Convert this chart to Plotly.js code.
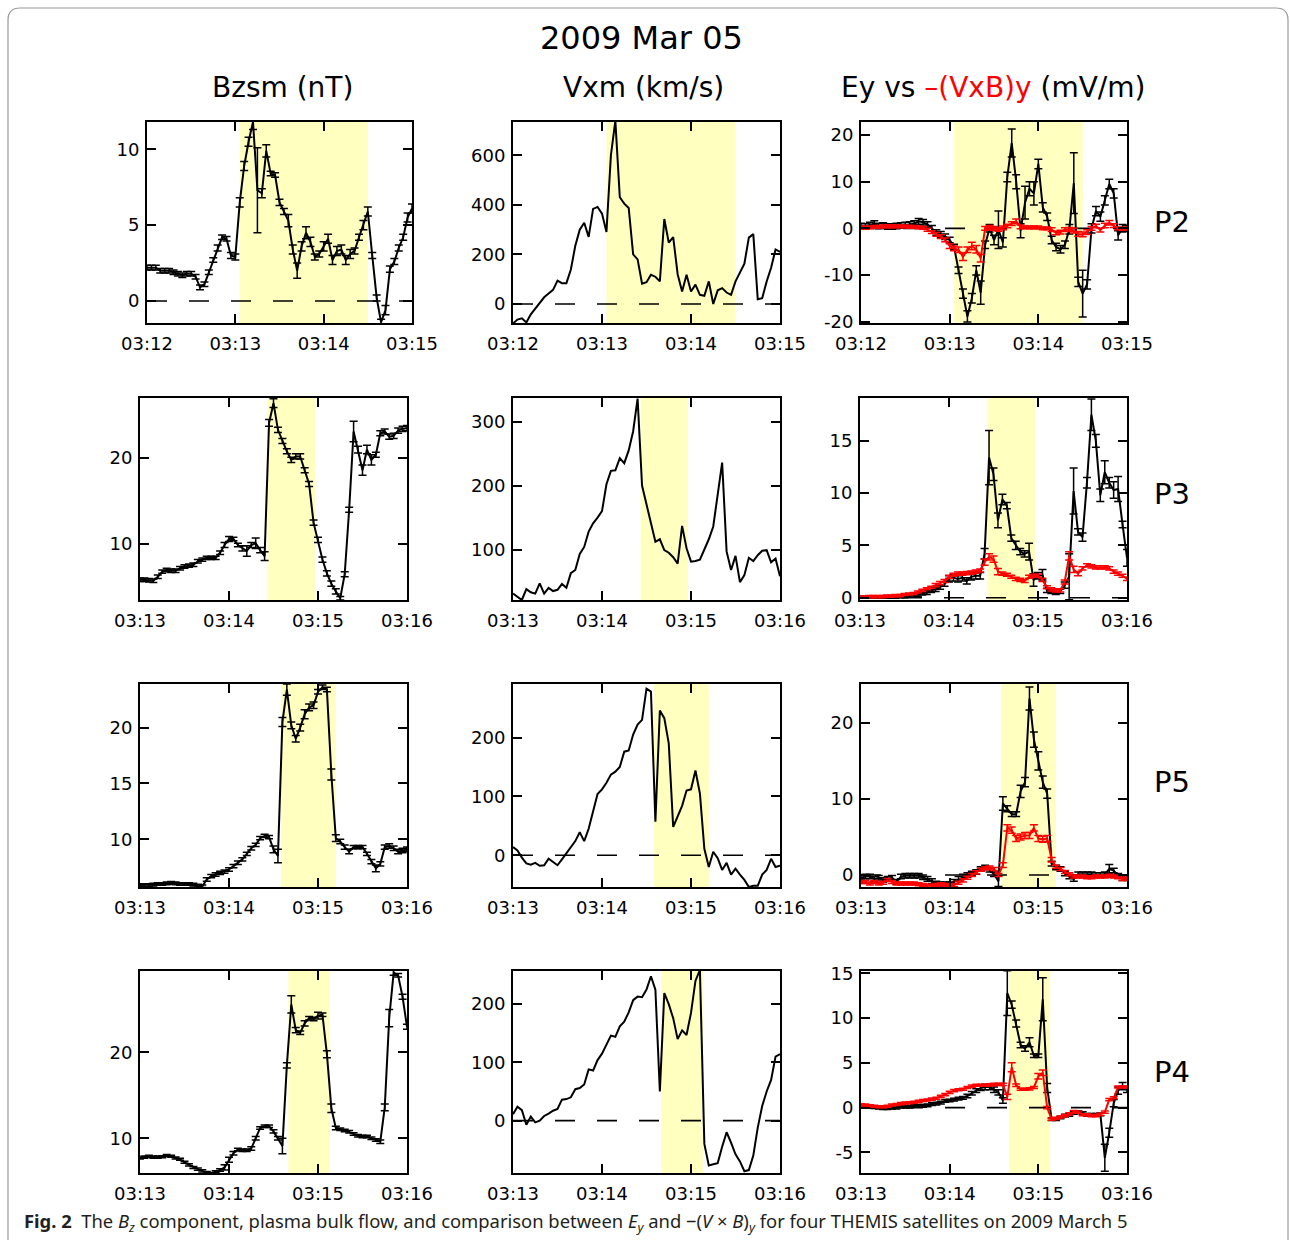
<!DOCTYPE html>
<html><head><meta charset="utf-8">
<script src="https://cdn.plot.ly/plotly-3.0.1.min.js"></script>
<style>html,body{margin:0;padding:0;background:#fff}</style>
</head><body>
<div id="chart" style="width:1290px;height:1240px"></div>
<script>
// ---- sample times: seconds after panel start (3 s spin cadence) ----
const T = [0,3,6,9,12,15,18,21,24,27,30,33,36,39,42,45,48,51,54,57,60,63,66,69,72,75,78,81,84,87,90,93,96,99,102,105,108,111,114,117,120,123,126,129,132,135,138,141,144,147,150,153,156,159,162,165,168,171,174,177,180];
const xTickVals = [0,60,120,180];
const xTickP2 = ['03:12','03:13','03:14','03:15'];
const xTickLate = ['03:13','03:14','03:15','03:16'];

// ---- P2 ----
const bz_P2 = [2.2,2.2,2.2,2.0,2.0,2.0,1.9,1.8,1.7,1.8, 1.8,1.6,0.9,1.1,1.9,2.7,3.5,4.2,4.1,3.0, 2.9,6.5,8.9,10.5,11.8,7.3,7.1,9.9,8.4,8.3, 6.5,5.9,5.3,3.4,2.0,3.6,4.5,3.9,2.9,3.1, 3.6,4.1,2.7,3.3,3.4,2.7,3.1,3.3,4.2,5.0, 5.9,3.0,0.2,-1.4,-0.6,2.1,2.6,3.5,4.2,5.5, 6.1];
const bz_P2_err = [0.15,0.15,0.15,0.15,0.15,0.15,0.15,0.15,0.15,0.15, 0.15,0.15,0.15,0.15,0.15,0.15,0.2,0.15,0.15,0.2, 0.2,0.3,0.3,0.3,0.5,2.8,0.3,0.4,0.15,0.15, 0.2,0.2,0.4,0.3,0.5,0.3,0.4,0.3,0.2,0.2, 0.3,0.3,0.3,0.3,0.3,0.3,0.3,0.2,0.2,0.3, 0.3,0.2,0.2,0.2,0.3,0.2,0.2,0.2,0.2,0.3, 0.3];
const vx_P2 = [-79,-63,-58,-75,-42,-20,3,27,42,57, 94,84,84,139,235,300,328,271,384,392, 365,291,600,740,431,405,388,200,180,82, 88,118,110,91,343,248,270,120,50,118, 50,78,37,33,91,0,55,64,46,37, 91,125,163,268,282,19,23,91,146,220, 210];
const ey_P2 = [0.5,0.4,0.7,1.0,0.5,0.6,0.4,0.4,0.5,0.6, 0.7,0.8,1.0,1.5,1.3,0.8,0.0,-0.9,-1.3,-1.8, -2.5,-4.0,-9.0,-14.0,-18.9,-15.0,-9.0,-13.8,-3.5,0.0, -2.5,-0.3,-3.0,11.0,18.3,10.0,-0.5,5.5,8.5,7.5, 13.8,4.5,2.5,-2.5,-4.0,-4.5,-3.5,-0.2,9.7,-11.5, -14.0,-12.0,0.0,3.7,2.5,6.0,9.5,7.5,-1.5,0.0, 0.0];
const ey_P2_err = [0.6,0.6,0.6,0.6,0.6,0.6,0.6,0.6,0.6,0.6, 0.6,0.6,0.6,0.6,0.6,0.6,0.6,0.6,0.6,0.6, 0.6,0.6,0.7,1.0,1.2,1.0,1.0,2.5,0.8,0.8, 1.0,4.0,1.0,1.0,3.0,1.5,1.5,3.5,1.5,2.5, 1.0,1.0,0.8,0.8,0.8,0.8,0.8,1.0,6.5,1.0, 5.0,1.0,1.0,1.0,1.0,1.0,1.0,1.0,1.0,0.8, 0.6];
const vxb_P2 = [0.2,0.1,0.2,0.3,0.3,0.4,0.4,0.4,0.4,0.4, 0.4,0.3,0.3,0.2,0.1,-0.3,-0.8,-1.3,-1.8,-2.5, -3.8,-4.3,-4.6,-6.1,-4.6,-3.8,-4.5,-6.4,0.0,0.2, 0.0,-0.2,0.1,0.5,1.0,1.5,0.3,0.2,0.2,0.2, 0.2,0.0,0.0,-0.3,-1.0,-0.8,-0.3,-0.2,-0.5,-1.2, -1.3,-0.8,0.0,0.5,-0.4,0.6,1.2,0.6,0.0,-0.1, 0.0];
const vxb_P2_err = [0.3,0.3,0.3,0.3,0.3,0.3,0.3,0.3,0.3,0.3, 0.3,0.3,0.3,0.3,0.3,0.3,0.3,0.4,0.4,0.4, 0.5,0.5,0.6,0.8,0.6,0.8,0.8,0.8,0.4,0.4, 0.4,0.4,0.4,0.4,0.4,0.5,0.4,0.3,0.3,0.3, 0.3,0.3,0.3,0.4,0.4,0.4,0.4,0.4,0.5,0.5, 0.5,0.5,0.4,0.4,0.4,0.5,0.5,0.4,0.3,0.3, 0.3];
const shade_P2 = [63,150];

// ---- P3 ----
const bz_P3 = [5.85,5.85,5.8,5.75,6.2,6.8,7.0,6.9,6.9,7.2, 7.4,7.5,7.6,8.0,8.2,8.4,8.4,8.4,9.0,9.9, 10.6,10.6,9.9,9.5,9.2,9.9,10.1,9.3,8.6,24.1, 26.4,23.3,22.0,20.8,19.8,20.2,20.2,18.6,17.0,12.5, 10.5,8.2,6.6,5.4,4.5,3.7,6.5,14.0,23.1,21.0, 18.6,21.0,19.8,20.4,22.9,23.1,22.5,22.6,23.2,23.4, 23.5];
const bz_P3_err = [0.2,0.2,0.2,0.2,0.2,0.2,0.2,0.2,0.2,0.2, 0.2,0.2,0.2,0.2,0.2,0.2,0.2,0.2,0.2,0.3, 0.3,0.2,0.2,0.3,0.6,0.3,0.6,0.3,0.5,0.4, 0.5,0.3,0.3,0.3,0.3,0.3,0.3,0.3,0.3,0.3, 0.3,0.3,0.3,0.3,0.3,0.2,0.3,0.3,1.2,0.4, 0.6,0.5,0.6,0.3,0.3,0.3,0.3,0.3,0.3,0.3, 0.3];
const vx_P3 = [31,26,21,38,33,31,47,31,40,35, 37,46,40,63,68,93,104,128,141,150, 160,202,223,224,243,235,255,285,336,200, 170,142,112,116,99,95,88,78,137,102, 81,82,84,100,116,136,185,236,97,68, 90,49,60,87,82,91,98,99,80,86, 58];
const ey_P3 = [0.05,0.05,0.05,0.05,0.05,0.05,0.05,0.05,0.05,0.1, 0.1,0.15,0.2,0.3,0.4,0.5,0.7,0.8,1.0,1.3, 1.8,1.9,1.8,1.9,1.6,2.0,2.1,2.1,4.2,13.4, 11.8,7.4,9.4,8.8,5.7,5.0,4.4,4.2,4.4,1.7, 2.1,2.2,0.7,0.6,0.5,0.6,1.2,2.0,10.2,6.3, 5.8,11.0,17.5,15.0,9.8,12.0,11.0,10.3,10.4,7.0, 3.8];
const ey_P3_err = [0.1,0.1,0.1,0.1,0.1,0.1,0.1,0.1,0.1,0.1, 0.1,0.1,0.15,0.15,0.15,0.2,0.2,0.2,0.2,0.2, 0.3,0.3,0.3,0.3,0.3,0.3,0.3,0.3,0.5,2.6, 0.6,0.7,0.5,0.3,0.3,0.4,0.3,0.3,0.8,0.6, 0.3,0.5,0.2,0.2,0.2,0.2,0.3,2.2,2.2,0.3, 0.4,0.5,1.5,0.6,0.6,1.1,0.5,0.8,1.2,0.3, 0.8];
const vxb_P3 = [0.05,0.05,0.1,0.1,0.1,0.1,0.15,0.15,0.2,0.2, 0.3,0.35,0.4,0.55,0.7,0.85,1.0,1.2,1.4,1.6, 2.0,2.2,2.3,2.3,2.35,2.4,2.5,2.6,3.4,3.9, 3.7,2.5,2.3,2.2,2.0,1.8,1.7,1.6,2.0,2.1, 2.1,1.7,1.0,0.8,0.7,0.7,1.5,4.0,2.7,2.3, 2.8,3.1,3.0,2.9,2.9,2.9,2.8,2.5,2.3,2.1, 1.8];
const vxb_P3_err = [0.1,0.1,0.1,0.1,0.1,0.1,0.1,0.1,0.1,0.1, 0.1,0.1,0.1,0.1,0.1,0.1,0.1,0.15,0.15,0.15, 0.15,0.15,0.15,0.15,0.15,0.15,0.15,0.15,0.3,0.3, 0.3,0.3,0.15,0.15,0.15,0.15,0.15,0.15,0.15,0.15, 0.15,0.15,0.15,0.15,0.15,0.15,0.2,0.4,0.3,0.2, 0.15,0.15,0.15,0.15,0.15,0.15,0.15,0.15,0.15,0.15, 0.15];
const shade_P3 = [86,118];

// ---- P5 ----
const bz_P5 = [5.9,5.9,5.9,5.95,6.0,6.0,6.05,6.1,6.05,6.0, 6.0,6.0,5.95,5.85,5.8,6.4,6.7,6.85,7.0,7.1, 7.3,7.6,7.9,8.2,8.7,9.2,9.5,10.1,10.3,10.2, 9.1,8.5,20.5,23.4,20.2,19.0,20.0,21.2,21.8,22.0, 23.2,23.6,23.4,15.8,10.1,9.8,9.3,8.9,9.3,9.3, 9.3,8.7,8.0,7.4,7.8,9.3,9.4,9.2,8.9,9.0, 9.1];
const bz_P5_err = [0.12,0.12,0.12,0.12,0.12,0.12,0.12,0.12,0.12,0.12, 0.12,0.12,0.12,0.12,0.12,0.15,0.15,0.15,0.15,0.15, 0.15,0.15,0.15,0.15,0.15,0.15,0.15,0.15,0.15,0.15, 0.3,0.6,0.4,0.5,0.3,0.3,0.3,0.4,0.3,0.3, 0.2,0.2,0.2,0.5,0.3,0.2,0.2,0.2,0.15,0.15, 0.15,0.15,0.2,0.3,0.2,0.2,0.2,0.2,0.2,0.2, 0.2];
const vx_P5 = [14,8,-4,-14,-16,-13,-18,-17,-6,-12, -17,-7,3,12,24,39,24,45,75,104, 112,123,137,142,150,176,178,205,222,230, 283,278,57,246,233,190,48,65,84,110, 112,144,105,11,-20,6,-5,-25,-13,-33, -23,-33,-42,-54,-52,-52,-33,-25,-6,-20, -18];
const ey_P5 = [-0.35,-0.2,-0.2,-0.5,-0.35,-0.65,-0.5,-0.35,-0.9,-0.2, -0.1,-0.1,-0.1,-0.1,-0.3,-0.5,-0.8,-1.1,-1.2,-1.2, -1.2,-0.9,-0.5,-0.2,0.0,0.2,0.4,0.8,1.0,0.7, 0.1,-0.8,9.4,8.7,8.0,8.0,11.0,12.2,23.2,17.8, 15.0,12.2,10.7,1.5,1.0,0.8,0.2,-0.2,-0.5,0.1, 0.1,0.1,0.1,0.0,0.0,0.1,0.8,0.6,-0.1,-0.4, -0.35];
const ey_P5_err = [0.3,0.3,0.3,0.3,0.3,0.3,0.3,0.3,0.3,0.3, 0.3,0.3,0.3,0.3,0.3,0.3,0.3,0.3,0.3,0.3, 0.3,0.3,0.3,0.3,0.3,0.3,0.3,0.3,0.3,0.3, 0.3,0.7,0.9,0.4,0.3,0.3,0.8,0.6,1.5,1.0, 1.2,0.8,0.6,0.3,0.3,0.3,0.3,0.3,0.3,0.3, 0.3,0.3,0.3,0.3,0.3,0.3,0.6,0.3,0.3,0.3, 0.3];
const vxb_P5 = [-0.9,-0.9,-1.1,-0.9,-1.1,-1.0,-0.65,-0.9,-1.1,-1.1, -1.1,-1.1,-1.1,-1.2,-1.3,-1.4,-1.4,-1.3,-1.2,-1.3, -1.4,-1.3,-1.0,-0.7,-0.35,0.0,0.35,0.7,0.9,1.0, 0.8,0.0,1.3,6.2,5.9,4.8,5.0,5.2,5.2,6.2, 4.8,4.7,4.8,2.0,1.1,0.8,0.4,0.1,-0.2,-0.2, -0.2,-0.3,-0.3,-0.2,-0.2,-0.2,-0.1,-0.2,-0.3,-0.5, -0.5];
const vxb_P5_err = [0.2,0.2,0.2,0.2,0.2,0.2,0.2,0.2,0.2,0.2, 0.2,0.2,0.2,0.2,0.2,0.2,0.2,0.2,0.2,0.2, 0.2,0.2,0.2,0.2,0.2,0.2,0.2,0.2,0.2,0.2, 0.2,0.2,0.3,0.4,0.4,0.4,0.4,0.4,0.4,0.4, 0.4,0.4,0.4,0.3,0.2,0.2,0.2,0.2,0.2,0.2, 0.2,0.2,0.2,0.2,0.2,0.2,0.2,0.2,0.2,0.2, 0.2];
const shade_P5 = [95,132];

// ---- P4 ----
const bz_P4 = [7.7,7.8,7.9,7.8,7.8,7.85,8.0,7.9,7.7,7.55, 7.2,6.9,6.6,6.4,6.2,6.0,5.9,6.1,6.3,6.6, 7.5,8.25,8.7,8.6,8.6,8.8,10.0,11.2,11.4,11.4, 10.8,10.0,9.1,18.5,25.6,22.6,22.3,23.4,24.0,23.9, 24.3,24.4,19.8,13.5,11.2,11.05,10.9,10.75,10.5,10.3, 10.2,10.2,10.0,9.8,9.6,13.6,24.0,29.3,29.0,26.5, 23.0];
const bz_P4_err = [0.12,0.12,0.12,0.12,0.12,0.12,0.12,0.12,0.12,0.12, 0.12,0.12,0.12,0.12,0.12,0.12,0.12,0.12,0.15,0.3, 0.3,0.2,0.15,0.15,0.15,0.2,0.2,0.15,0.15,0.15, 0.2,0.2,0.9,0.3,1.0,0.3,0.2,0.3,0.2,0.2, 0.4,0.2,0.4,0.5,0.2,0.15,0.15,0.15,0.15,0.15, 0.15,0.15,0.15,0.15,0.2,0.4,1.0,0.3,0.2,0.3, 0.3];
const vx_P4 = [11,24,18,-7,7,-3,0,8,12,17, 20,36,37,40,54,56,62,88,86,104, 115,130,146,144,162,170,186,207,213,212, 225,248,225,50,219,200,176,140,155,147, 185,240,259,-40,-77,-75,-73,-45,-20,-38, -58,-70,-87,-85,-60,-12,25,50,70,110, 114];
const ey_P4 = [0.2,0.1,0.1,0.05,0.0,-0.05,-0.05,0.0,0.0,0.1, 0.1,0.1,0.2,0.2,0.2,0.25,0.4,0.45,0.55,0.75, 0.8,0.9,1.0,1.1,1.3,1.6,1.9,2.2,2.3,2.3, 2.0,1.7,0.8,12.8,11.5,9.4,7.0,6.6,7.3,5.8, 5.8,12.1,2.2,-1.3,-1.3,-1.1,-0.9,-0.8,-0.6,-0.5, -0.6,-0.8,-0.8,-0.8,-0.75,-5.6,-2.8,0.5,1.9,2.4, 2.0];
const ey_P4_err = [0.15,0.15,0.15,0.15,0.15,0.15,0.15,0.15,0.15,0.15, 0.15,0.15,0.15,0.15,0.15,0.15,0.15,0.15,0.15,0.15, 0.15,0.15,0.15,0.15,0.2,0.2,0.2,0.3,0.3,0.3, 0.3,0.3,0.3,2.5,0.4,0.4,0.3,0.3,0.5,0.2, 0.2,2.4,0.5,0.15,0.15,0.15,0.15,0.15,0.15,0.15, 0.15,0.15,0.15,0.15,0.15,1.5,0.5,0.4,0.4,0.4, 0.3];
const vxb_P4 = [0.3,0.3,0.2,0.15,0.1,0.1,0.15,0.3,0.35,0.45, 0.5,0.55,0.6,0.7,0.8,0.85,0.95,1.05,1.25,1.45, 1.7,1.9,2.0,2.05,2.25,2.4,2.5,2.5,2.5,2.55, 2.6,2.6,2.6,1.2,4.5,2.5,2.05,2.05,2.1,2.25, 3.5,3.9,0.0,-1.3,-1.2,-1.05,-0.9,-0.7,-0.45,-0.5, -0.8,-0.8,-0.9,-0.9,-0.75,-0.5,0.9,1.1,2.3,2.3, 2.3];
const vxb_P4_err = [0.12,0.12,0.12,0.12,0.12,0.12,0.12,0.12,0.12,0.12, 0.12,0.12,0.12,0.12,0.12,0.12,0.12,0.12,0.12,0.12, 0.12,0.12,0.12,0.12,0.12,0.12,0.12,0.12,0.12,0.12, 0.12,0.12,0.12,0.3,0.5,0.15,0.12,0.12,0.12,0.12, 0.3,0.3,0.12,0.12,0.12,0.12,0.12,0.12,0.12,0.12, 0.12,0.12,0.12,0.12,0.12,0.12,0.12,0.12,0.12,0.12, 0.12];
const shade_P4 = [100,128];

// ---- labels / ticks ----
const probes = ['P2','P3','P5','P4'];
const colTitles = ['Bzsm (nT)','Vxm (km/s)','Ey vs <span style="color:#ff0000">–(VxB)y</span> (mV/m)'];
const yTicks = [
  [[0,5,10],[0,200,400,600],[-20,-10,0,10,20]],
  [[10,20],[100,200,300],[0,5,10,15]],
  [[10,15,20],[0,100,200],[0,10,20]],
  [[10,20],[0,100,200],[-5,0,5,10,15]]
];
const yRanges = [
  [[-1.45,11.8],[-77,735],[-20.3,22.8]],
  [[3.5,27.0],[21,337],[-0.22,19.1]],
  [[5.73,23.9],[-54,291],[-1.57,25.1]],
  [[5.95,29.5],[-90,257],[-7.3,15.26]]
];
const zeroLine = [[true,true,true],[false,false,true],[false,true,true],[false,true,true]];

// ---- geometry (pixels) ----
const W = 1290, H = 1240;
const colX = [[[147,412],[513,780],[861,1127]],
              [[140,407],[513,780],[860,1127]],
              [[140,407],[513,780],[861,1127]],
              [[140,407],[513,780],[861,1127]]];
const rowY = [[122,323],[398,600],[684,887],[971,1173]];

const rowsData = [
  {bz:bz_P2,bzE:bz_P2_err,vx:vx_P2,ey:ey_P2,eyE:ey_P2_err,vb:vxb_P2,vbE:vxb_P2_err,sh:shade_P2,xt:xTickP2},
  {bz:bz_P3,bzE:bz_P3_err,vx:vx_P3,ey:ey_P3,eyE:ey_P3_err,vb:vxb_P3,vbE:vxb_P3_err,sh:shade_P3,xt:xTickLate},
  {bz:bz_P5,bzE:bz_P5_err,vx:vx_P5,ey:ey_P5,eyE:ey_P5_err,vb:vxb_P5,vbE:vxb_P5_err,sh:shade_P5,xt:xTickLate},
  {bz:bz_P4,bzE:bz_P4_err,vx:vx_P4,ey:ey_P4,eyE:ey_P4_err,vb:vxb_P4,vbE:vxb_P4_err,sh:shade_P4,xt:xTickLate}
];

const FONT = 'DejaVu Sans';
const traces = [], shapes = [], annotations = [];
const layout = {
  width: W, height: H, margin:{l:0,r:0,t:0,b:0},
  paper_bgcolor:'#ffffff', plot_bgcolor:'rgba(0,0,0,0)',
  showlegend:false, font:{family:FONT, color:'#000', size:18}
};

function errOpts(arr, color){
  return {type:'data', array:arr, symmetric:true, visible:true, color:color, thickness:1.5, width:4};
}

for (let r=0; r<4; r++){
  const d = rowsData[r];
  for (let c=0; c<3; c++){
    const k = r*3+c+1;
    const sx = k===1 ? '' : String(k);
    const xa = 'x'+sx, ya = 'y'+sx;
    const [L,R] = colX[r][c];
    const [Tp,B] = rowY[r];
    layout['xaxis'+sx] = {
      domain:[L/W, R/W], anchor:ya, range:[0,180],
      tickvals:xTickVals, ticktext:d.xt,
      ticks:'inside', ticklen:9, tickwidth:2, tickcolor:'#000',
      showline:true, linewidth:2, linecolor:'#000', mirror:'allticks',
      showgrid:false, zeroline:false, tickfont:{size:18, family:FONT}, ticklabelstandoff:3
    };
    const tv = yTicks[r][c];
    layout['yaxis'+sx] = {
      domain:[1-B/H, 1-Tp/H], anchor:xa, range:yRanges[r][c],
      tickvals:tv, ticktext:tv.map(v=>String(v)),
      ticks:'inside', ticklen:9, tickwidth:2, tickcolor:'#000',
      showline:true, linewidth:2, linecolor:'#000', mirror:'allticks',
      showgrid:false, zeroline:false, tickfont:{size:18, family:FONT}, ticklabelstandoff:2
    };
    shapes.push({type:'rect', xref:xa, yref:ya+' domain', x0:d.sh[0], x1:d.sh[1], y0:0, y1:1,
                 fillcolor:'#ffffc0', line:{width:0}, layer:'below'});
    if (zeroLine[r][c]) {
      shapes.push({type:'line', xref:xa+' domain', yref:ya, x0:0, x1:1, y0:0, y1:0,
                   line:{color:'#000', width:1.6, dash:'20px,22px'}, layer:'below'});
    }
    if (c===0){
      traces.push({type:'scatter', mode:'lines', x:T, y:d.bz, xaxis:xa, yaxis:ya,
        line:{color:'#000', width:2}, error_y:errOpts(d.bzE,'#000')});
    } else if (c===1){
      traces.push({type:'scatter', mode:'lines', x:T, y:d.vx, xaxis:xa, yaxis:ya,
        line:{color:'#000', width:2}});
    } else {
      traces.push({type:'scatter', mode:'lines', x:T, y:d.ey, xaxis:xa, yaxis:ya,
        line:{color:'#000', width:2}, error_y:errOpts(d.eyE,'#000')});
      traces.push({type:'scatter', mode:'lines', x:T, y:d.vb, xaxis:xa, yaxis:ya,
        line:{color:'#ff0000', width:2}, error_y:errOpts(d.vbE,'#ff0000')});
    }
  }
  annotations.push({xref:'paper', yref:'paper', x:1172/W, y:1-[222,494,782,1072][r]/H,
    text:probes[r], showarrow:false, xanchor:'center', yanchor:'middle', font:{size:29, family:FONT}});
}

// titles
annotations.push({xref:'paper', yref:'paper', x:641/W, y:1-38/H, text:'2009 Mar 05', showarrow:false,
  xanchor:'center', yanchor:'middle', font:{size:32, family:FONT}});
const colCenters = [282, 643, 993];
for (let c=0;c<3;c++){
  annotations.push({xref:'paper', yref:'paper', x:colCenters[c]/W, y:1-88/H, text:colTitles[c], showarrow:false,
    xanchor:'center', yanchor:'middle', font:{size:28, family:FONT}});
}
// caption
annotations.push({xref:'paper', yref:'paper', x:22/W, y:1-1222/H, xanchor:'left', yanchor:'middle', showarrow:false,
  text:'<b>Fig. 2</b>  The <i>B</i><sub><i>z</i></sub> component, plasma bulk flow, and comparison between <i>E</i><sub><i>y</i></sub> and −(<i>V</i> × <i>B</i>)<sub><i>y</i></sub> for four THEMIS satellites on 2009 March 5',
  font:{size:18.4, family:'Noto Sans', color:'#231f20'}});

// outer rounded frame
function P(px,py){ return (px/W).toFixed(5)+','+(1-py/H).toFixed(5); }
shapes.push({type:'path', xref:'paper', yref:'paper', layer:'above',
  path:'M'+P(8,1260)+' L'+P(8,20)+' Q'+P(8,8)+' '+P(20,8)+' L'+P(1276,8)+' Q'+P(1288,8)+' '+P(1288,20)+' L'+P(1288,1260),
  line:{color:'#9a9a9a', width:1.2}});

layout.shapes = shapes;
layout.annotations = annotations;
Plotly.newPlot('chart', traces, layout, {displayModeBar:false, staticPlot:true});
</script>
</body></html>
